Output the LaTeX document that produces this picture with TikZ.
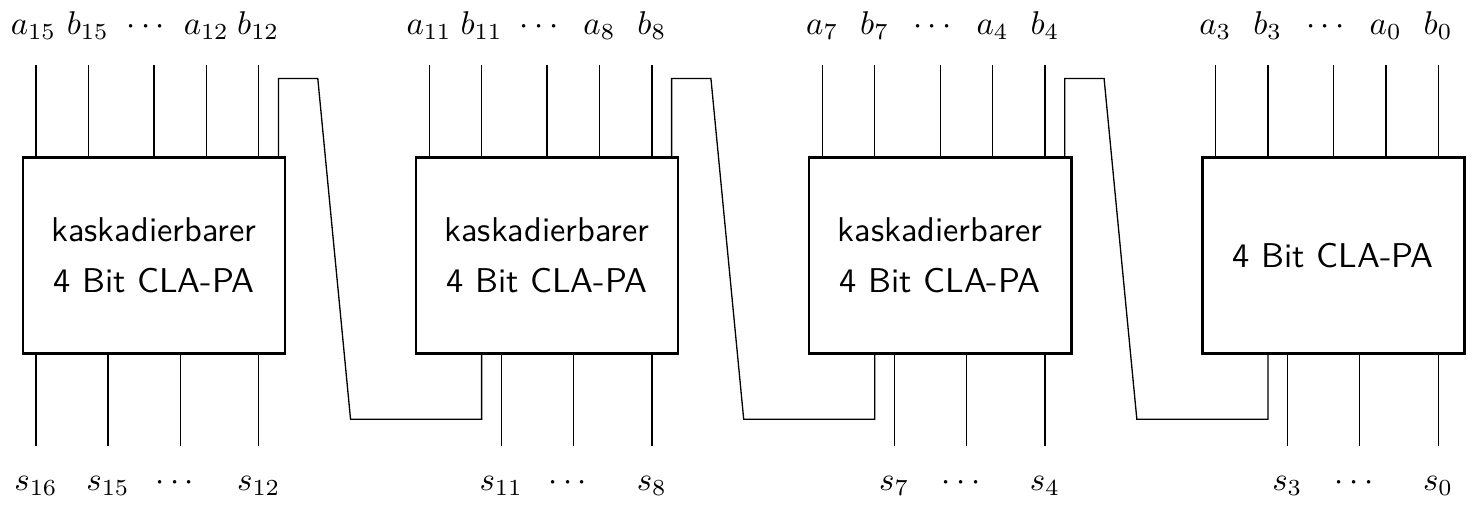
\documentclass[tikz,border=0pt]{standalone}
\usepackage{amsmath}
\usepackage{amssymb}
\usepackage{tikz}
\tikzstyle{cla}=[rectangle,draw=black!100,thick,minimum width=2.8cm,
minimum height=2.1cm,align=center,font=\fontsize{10.45}{12.5}\selectfont\sffamily]
\tikzstyle{sig}=[anchor=base,inner sep=0pt,font=\fontsize{10.45}{12.5}\selectfont]

\begin{document}
\begin{tikzpicture}[scale=1.4,line width=0.4pt]

	\useasboundingbox (0,0) rectangle (11.31,4.0);

	\node  (cla3)   at (1.175,2.05) [cla] {kaskadierbarer\\[3pt]4 Bit CLA-PA};
	\node  (cla2)   at (4.175,2.05) [cla] {kaskadierbarer\\[3pt]4 Bit CLA-PA};
	\node  (cla1)   at (7.175,2.05) [cla] {kaskadierbarer\\[3pt]4 Bit CLA-PA};
	\node  (cla0)   at (10.175,2.05) [cla] {4 Bit CLA-PA};

	% inputs
	\coordinate (a15) at (0.275,3.5);
	\coordinate (b15) at (0.675,3.5);
	\coordinate (d3)  at (1.175,3.5);
	\coordinate (a12) at (1.575,3.5);
	\coordinate (b12) at (1.975,3.5);
	\coordinate (a11) at (3.275,3.5);
	\coordinate (b11) at (3.675,3.5);
	\coordinate (d2)  at (4.175,3.5);
	\coordinate (a8)  at (4.575,3.5);
	\coordinate (b8)  at (4.975,3.5);
	\coordinate (a7)  at (6.275,3.5);
	\coordinate (b7)  at (6.675,3.5);
	\coordinate (d1)  at (7.175,3.5);
	\coordinate (a4)  at (7.575,3.5);
	\coordinate (b4)  at (7.975,3.5);
	\coordinate (a3)  at (9.275,3.5);
	\coordinate (b3)  at (9.675,3.5);
	\coordinate (d0)  at (10.175,3.5);
	\coordinate (a0)  at (10.575,3.5);
	\coordinate (b0)  at (10.975,3.5);

	\node  (ta15)  at (0.255,3.733) [sig] {$a_{15}$};
	\node  (tb15)  at (0.67,3.733) [sig] {$b_{15}$};
	\node  (td3)   at (1.135,3.733) [sig] {$\cdots$};
	\node  (ta12)  at (1.575,3.733) [sig] {$a_{12}$};
	\node  (tb12)  at (1.97,3.733) [sig] {$b_{12}$};
	\node  (ta11)  at (3.275,3.733) [sig] {$a_{11}$};
	\node  (tb11)  at (3.675,3.733) [sig] {$b_{11}$};
	\node  (td2)   at (4.135,3.733) [sig] {$\cdots$};
	\node  (ta8)   at (4.575,3.733) [sig] {$a_{8}$};
	\node  (tb8)   at (4.975,3.733) [sig] {$b_{8}$};
	\node  (ta7)   at (6.275,3.733) [sig] {$a_{7}$};
	\node  (tb7)   at (6.675,3.733) [sig] {$b_{7}$};
	\node  (td1)   at (7.135,3.733) [sig] {$\cdots$};
	\node  (ta4)   at (7.575,3.733) [sig] {$a_{4}$};
	\node  (tb4)   at (7.975,3.733) [sig] {$b_{4}$};
	\node  (ta3)   at (9.275,3.733) [sig] {$a_{3}$};
	\node  (tb3)   at (9.675,3.733) [sig] {$b_{3}$};
	\node  (td0)   at (10.135,3.733) [sig] {$\cdots$};
	\node  (ta0)   at (10.575,3.733) [sig] {$a_{0}$};
	\node  (tb0)   at (10.975,3.733) [sig] {$b_{0}$};

	% outputs
	\coordinate (s16) at (0.275,0.6);
	\coordinate (s15) at (0.825,0.6);
	\coordinate (e3)  at (1.375,0.6);
	\coordinate (s12) at (1.975,0.6);
	\coordinate (s11) at (3.825,0.6);
	\coordinate (e2)  at (4.375,0.6);
	\coordinate (s8)  at (4.975,0.6);
	\coordinate (s7)  at (6.825,0.6);
	\coordinate (e1)  at (7.375,0.6);
	\coordinate (s4)  at (7.975,0.6);
	\coordinate (s3)  at (9.825,0.6);
	\coordinate (e0)  at (10.375,0.6);
	\coordinate (s0)  at (10.975,0.6);

	\node  (ts16)  at (0.275,0.26) [sig] {$s_{16}$};
	\node  (ts15)  at (0.825,0.26) [sig] {$s_{15}$};
	\node  (te3)   at (1.355,0.26) [sig] {$\cdots$};
	\node  (ts12)  at (1.975,0.26) [sig] {$s_{12}$};
	\node  (ts11)  at (3.825,0.26) [sig] {$s_{11}$};
	\node  (te2)   at (4.355,0.26) [sig] {$\cdots$};
	\node  (ts8)   at (4.975,0.26) [sig] {$s_{8}$};
	\node  (ts7)   at (6.825,0.26) [sig] {$s_{7}$};
	\node  (te1)   at (7.355,0.26) [sig] {$\cdots$};
	\node  (ts4)   at (7.975,0.26) [sig] {$s_{4}$};
	\node  (ts3)   at (9.825,0.26) [sig] {$s_{3}$};
	\node  (te0)   at (10.355,0.26) [sig] {$\cdots$};
	\node  (ts0)   at (10.975,0.26) [sig] {$s_{0}$};

	% carry chain
	\coordinate (co2)  at (3.675,0.8);
	\coordinate (cb2)  at (2.675,0.8);
	\coordinate (ct2)  at (2.425,3.4);
	\coordinate (ci3)  at (2.125,3.4);
	\coordinate (co1)  at (6.675,0.8);
	\coordinate (cb1)  at (5.675,0.8);
	\coordinate (ct1)  at (5.425,3.4);
	\coordinate (ci2)  at (5.125,3.4);
	\coordinate (co0)  at (9.675,0.8);
	\coordinate (cb0)  at (8.675,0.8);
	\coordinate (ct0)  at (8.425,3.4);
	\coordinate (ci1)  at (8.125,3.4);

	\draw [-] (a15) to (a15 |- cla3.north);
	\draw [-] (b15) to (b15 |- cla3.north);
	\draw [-] (d3) to (d3 |- cla3.north);
	\draw [-] (a12) to (a12 |- cla3.north);
	\draw [-] (b12) to (b12 |- cla3.north);
	\draw [-] (a11) to (a11 |- cla2.north);
	\draw [-] (b11) to (b11 |- cla2.north);
	\draw [-] (d2) to (d2 |- cla2.north);
	\draw [-] (a8) to (a8 |- cla2.north);
	\draw [-] (b8) to (b8 |- cla2.north);
	\draw [-] (a7) to (a7 |- cla1.north);
	\draw [-] (b7) to (b7 |- cla1.north);
	\draw [-] (d1) to (d1 |- cla1.north);
	\draw [-] (a4) to (a4 |- cla1.north);
	\draw [-] (b4) to (b4 |- cla1.north);
	\draw [-] (a3) to (a3 |- cla0.north);
	\draw [-] (b3) to (b3 |- cla0.north);
	\draw [-] (d0) to (d0 |- cla0.north);
	\draw [-] (a0) to (a0 |- cla0.north);
	\draw [-] (b0) to (b0 |- cla0.north);

	\draw [-] (s16 |- cla3.south) to (s16);
	\draw [-] (s15 |- cla3.south) to (s15);
	\draw [-] (e3 |- cla3.south) to (e3);
	\draw [-] (s12 |- cla3.south) to (s12);
	\draw [-] (s11 |- cla2.south) to (s11);
	\draw [-] (e2 |- cla2.south) to (e2);
	\draw [-] (s8 |- cla2.south) to (s8);
	\draw [-] (s7 |- cla1.south) to (s7);
	\draw [-] (e1 |- cla1.south) to (e1);
	\draw [-] (s4 |- cla1.south) to (s4);
	\draw [-] (s3 |- cla0.south) to (s3);
	\draw [-] (e0 |- cla0.south) to (e0);
	\draw [-] (s0 |- cla0.south) to (s0);

	\draw [-] (co2 |- cla2.south) -- (co2) -- (cb2) -- (ct2) -- (ci3) -- (ci3 |- cla3.north);
	\draw [-] (co1 |- cla1.south) -- (co1) -- (cb1) -- (ct1) -- (ci2) -- (ci2 |- cla2.north);
	\draw [-] (co0 |- cla0.south) -- (co0) -- (cb0) -- (ct0) -- (ci1) -- (ci1 |- cla1.north);

\end{tikzpicture}
\end{document}
